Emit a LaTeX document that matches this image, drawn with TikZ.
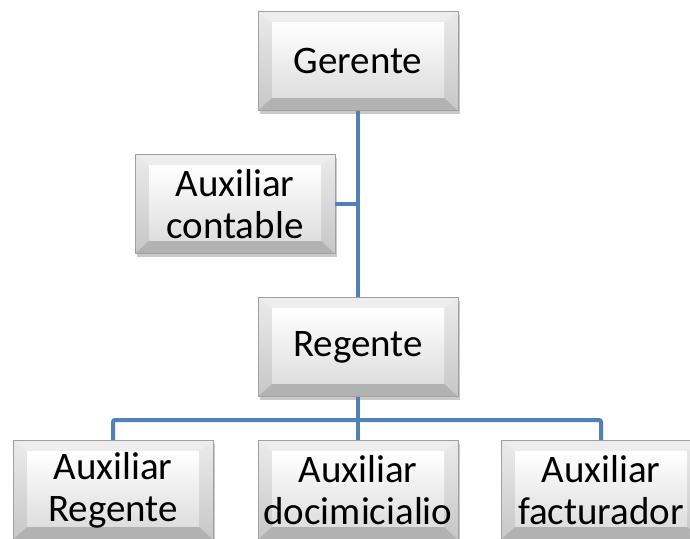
\documentclass[tikz,border=0pt]{standalone}
\usepackage{fontspec}
\setmainfont{Carlito}
\usetikzlibrary{shadows}
\definecolor{connblue}{RGB}{79,129,189}
\definecolor{bordergray}{RGB}{160,160,160}
\tikzset{
  orgbox/.style={rectangle, minimum width=200pt, minimum height=99pt, inner sep=0pt,
    align=center, font=\fontsize{39}{42}\selectfont, text=black,
    draw=bordergray, line width=0.6pt,
    drop shadow={shadow xshift=2pt, shadow yshift=-3pt, opacity=0.35, fill=black!60},
    top color=white, bottom color=black!22,
    path picture={
      \path (path picture bounding box.north west) coordinate (bNW)
            (path picture bounding box.north east) coordinate (bNE)
            (path picture bounding box.south west) coordinate (bSW)
            (path picture bounding box.south east) coordinate (bSE);
      \fill[black!7] (bNW) -- (bNE) -- ([shift={(-14pt,-11pt)}]bNE) -- ([shift={(14pt,-11pt)}]bNW) -- cycle;
      \fill[black!30] (bSW) -- (bSE) -- ([shift={(-14pt,13pt)}]bSE) -- ([shift={(14pt,13pt)}]bSW) -- cycle;
      \shade[top color=black!8, bottom color=black!22] (bNW) -- ([shift={(14pt,-11pt)}]bNW) -- ([shift={(14pt,13pt)}]bSW) -- (bSW) -- cycle;
      \shade[top color=black!8, bottom color=black!22] (bNE) -- ([shift={(-14pt,-11pt)}]bNE) -- ([shift={(-14pt,13pt)}]bSE) -- (bSE) -- cycle;
      \shade[top color=white, bottom color=black!13] ([shift={(14pt,-11pt)}]bNW) rectangle ([shift={(-14pt,13pt)}]bSE);
    }},
  conn/.style={draw=connblue, line width=4pt, rounded corners=2pt}
}
\begin{document}
\begin{tikzpicture}[x=1pt,y=-1pt]
\useasboundingbox[fill=white] (0,0) rectangle (690,538);
\node[orgbox] (ger) at (358,61) {Gerente};
\node[orgbox] (aux) at (235,204) {Auxiliar\\contable};
\node[orgbox] (reg) at (358,347) {Regente};
\node[orgbox] (ar) at (113,490) {Auxiliar\\Regente};
\node[orgbox] (ad) at (358,490) {Auxiliar\\docimicialio};
\node[orgbox] (af) at (601,490) {Auxiliar\\facturador};
\coordinate (bus) at (358,420);
\begin{scope}[on background layer/.style={}]
\end{scope}
\draw[conn] (ger.south) -- (reg.north);
\draw[conn] (aux.east) -- (aux.east -| ger.south);
\draw[conn] (reg.south) -- (ad.north);
\draw[conn] (ar.north) -- (ar.north |- bus) -- (af.north |- bus) -- (af.north);
\end{tikzpicture}
\end{document}
